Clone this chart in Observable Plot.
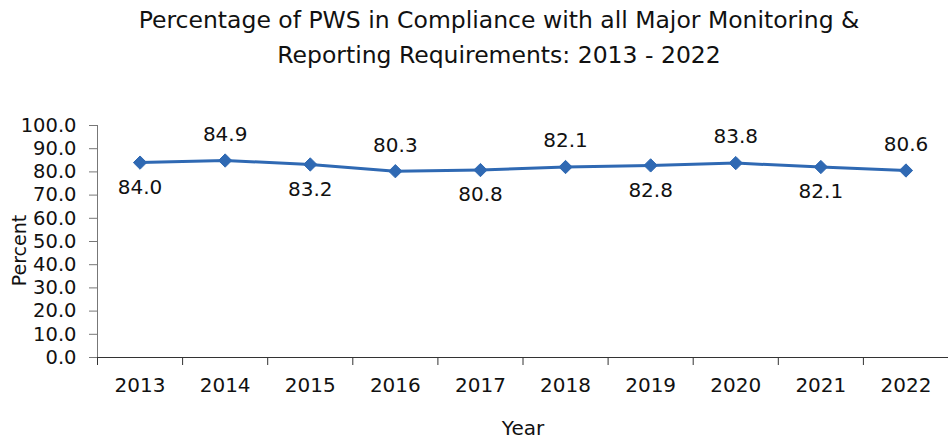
<!DOCTYPE html>
<html>
<head>
<meta charset="utf-8">
<script src="https://cdn.jsdelivr.net/npm/d3@7"></script>
<script src="https://cdn.jsdelivr.net/npm/@observablehq/plot@0.6"></script>
<style>
  html, body { margin: 0; padding: 0; background: #fff; }
  #title { width: 948px; height: 80px; box-sizing: border-box; padding-left: 50px; padding-top: 3px;
           font-family: "DejaVu Sans", sans-serif; font-size: 23.5px; line-height: 35px; text-align: center; color: #111; white-space: nowrap; }
  #chart svg { display: block; }
</style>
</head>
<body>
<div id="title">Percentage of PWS in Compliance with all Major Monitoring &amp;<br>Reporting Requirements: 2013 - 2022</div>
<div id="chart"></div>
<script>
const years = [2013, 2014, 2015, 2016, 2017, 2018, 2019, 2020, 2021, 2022];
const values = [84.0, 84.9, 83.2, 80.3, 80.8, 82.1, 82.8, 83.8, 82.1, 80.6];
const yTicks = [0, 10, 20, 30, 40, 50, 60, 70, 80, 90, 100];
const xLabel = "Year";
const yLabel = "Percent";

const data = years.map((year, i) => ({year, value: values[i], i}));
const above = data.filter(d => d.i % 2 === 1);
const below = data.filter(d => d.i % 2 === 0);
const boundaries = [...years.map(y => y - 0.5), years[years.length - 1] + 0.5];

const blue = "#2F69B3";
const font = "'DejaVu Sans', sans-serif";

const chart = Plot.plot({
  width: 948,
  height: 358,
  marginTop: 45,
  marginBottom: 81,
  marginLeft: 97,
  marginRight: 0,
  style: {fontFamily: font, fontSize: "20px", color: "#111", background: "#fff", overflow: "visible"},
  x: {type: "linear", domain: [boundaries[0], boundaries[boundaries.length - 1]]},
  y: {domain: [0, 100]},
  marks: [
    Plot.axisY(yTicks, {tickFormat: d => d.toFixed(1), tickSize: 8, tickPadding: 13, stroke: "#777",
      label: null, fontSize: 19.5}),
    Plot.text([yLabel], {frameAnchor: "left", textAnchor: "middle", rotate: -90, dx: -78, dy: 9, fontSize: 19, fill: "#111"}),
    Plot.axisX(boundaries, {tickFormat: () => "", tickSize: 8, stroke: "#333", label: null}),
    Plot.axisX(years, {tickSize: 0, tickPadding: 20, tickFormat: d => String(d), fontSize: 20,
      label: xLabel, labelAnchor: "center", labelArrow: "none", labelOffset: 77}),
    Plot.ruleX([boundaries[0]], {stroke: "#777"}),
    Plot.ruleY([0], {stroke: "#333"}),
    Plot.line(data, {x: "year", y: "value", stroke: blue, strokeWidth: 3}),
    Plot.dot(data, {x: "year", y: "value", symbol: "diamond2", r: 6, fill: blue, stroke: blue, strokeWidth: 1}),
    Plot.text(above, {x: "year", y: "value", text: d => d.value.toFixed(1), dy: -26, fontSize: 20, fill: "#111"}),
    Plot.text(below, {x: "year", y: "value", text: d => d.value.toFixed(1), dy: 25, fontSize: 20, fill: "#111"})
  ]
});
document.getElementById("chart").appendChild(chart);
</script>
</body>
</html>
